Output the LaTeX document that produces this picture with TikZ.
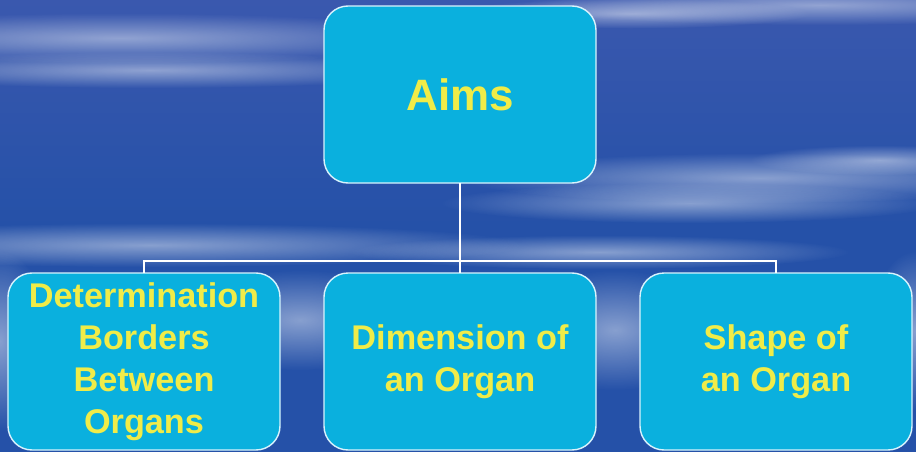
\documentclass[tikz,border=0pt]{standalone}
\usepackage{fontspec}
\setmainfont{Liberation Sans}
\usetikzlibrary{positioning,fadings}

\definecolor{skyblue}{HTML}{2551A8}
\definecolor{skytop}{HTML}{3A58AE}
\definecolor{boxcyan}{HTML}{0AB0DE}
\definecolor{aimyellow}{HTML}{F0EC48}

\tikzfading[name=soft streak,inner color=transparent!0,outer color=transparent!100]

\begin{document}
\begin{tikzpicture}[aim/.style={draw=white!85!cyan,line width=0.8pt,fill=boxcyan,
            rounded corners=0.48cm,minimum width=5.44cm,minimum height=3.54cm,
            inner sep=2pt,outer sep=0pt,text=aimyellow,align=center,
            font=\bfseries\fontsize{19.5}{24}\selectfont},
        link/.style={draw=white,line width=1.1pt},
        streak/.style={fill=white,opacity=0.45,path fading=soft streak}]
        % sky behind the chart
        \shade[top color=skytop,bottom color=skyblue,middle color=skyblue] (0,0) rectangle (18.32,9.02);
        \useasboundingbox (0,0) rectangle (18.32,9.02);
        \clip (0,0) rectangle (18.32,9.02);
        \fill[streak] (2.4,8.26) ellipse (7.0 and 0.50);
        \fill[streak] (3.0,7.62) ellipse (6.0 and 0.36);
        \fill[streak] (16.4,8.92) ellipse (6.0 and 0.40);
        \fill[streak] (12.6,8.75) ellipse (3.6 and 0.30);
        \fill[streak] (15.2,5.46) ellipse (6.0 and 0.50);
        \fill[streak] (13.8,4.96) ellipse (5.0 and 0.40);
        \fill[streak] (17.6,5.82) ellipse (2.6 and 0.30);
        \fill[streak] (3.0,4.12) ellipse (7.5 and 0.44);
        \fill[streak] (12.0,3.98) ellipse (5.0 and 0.34);
        \fill[streak] (6.0,2.62) ellipse (2.6 and 1.00);
        \fill[streak] (12.3,2.42) ellipse (2.2 and 1.20);
        \fill[streak] (0.0,2.20) ellipse (1.0 and 1.80);
        \fill[streak] (18.3,2.40) ellipse (0.9 and 1.60);

        \node[aim,font=\bfseries\fontsize{25}{30}\selectfont] (aims) at (9.2,7.13) {Aims};
        \node[aim,below=1.8cm of aims] (dimension) {Dimension of\\an Organ};
        \node[aim,left=0.88cm of dimension] (borders) {Determination\\Borders\\Between\\Organs};
        \node[aim,right=0.88cm of dimension] (shape) {Shape of\\an Organ};

        \path (aims.south) ++(0,-1.56) coordinate (split);
        \draw[link] (aims.south) -- (split);
        \draw[link] (split) -| (borders.north);
        \draw[link] (split) -| (shape.north);
        \draw[link] (split) -- (dimension.north);
    \end{tikzpicture}
\end{document}
